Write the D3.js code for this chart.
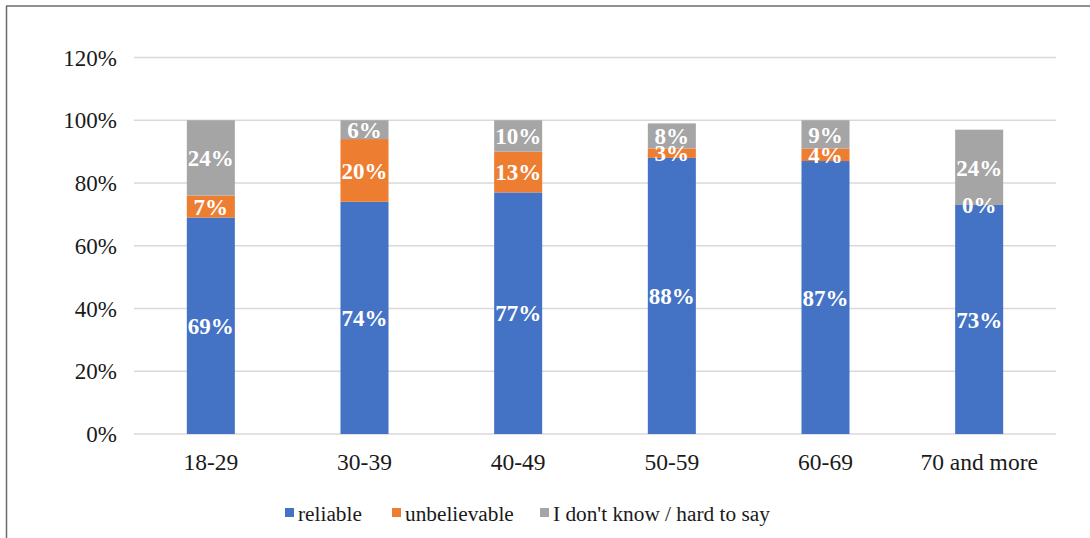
<!DOCTYPE html>
<html>
<head>
<meta charset="utf-8">
<script src="https://cdn.jsdelivr.net/npm/d3@7"></script>
<style>
  html, body { margin: 0; padding: 0; background: #fff; }
  svg { display: block; }
</style>
</head>
<body>
<svg id="chart" width="1090" height="538"></svg>
<script>
// Age groups and the share of answers for each group (percent)
const categories = ["18-29", "30-39", "40-49", "50-59", "60-69", "70 and more"];
const reliable     = [69, 74, 77, 88, 87, 73];
const unbelievable = [7, 20, 13, 3, 4, 0];
const dontKnow     = [24, 6, 10, 8, 9, 24];
const seriesNames  = ["reliable", "unbelievable", "I don't know / hard to say"];
const yTicks = [0, 20, 40, 60, 80, 100, 120];

const colors = ["#4472C4", "#ED7D31", "#A5A5A5"];
const FONT = '"Liberation Serif", "Times New Roman", serif';

const svg = d3.select("#chart");
const W = 1090, H = 538;

// frame: top and left edges
svg.append("line").attr("x1", 6).attr("x2", W).attr("y1", 6).attr("y2", 6)
  .attr("stroke", "#6b6b6b").attr("stroke-width", 1.5);
svg.append("line").attr("x1", 6.5).attr("x2", 6.5).attr("y1", 6).attr("y2", H)
  .attr("stroke", "#6b6b6b").attr("stroke-width", 1.5);

const plot = { left: 134, right: 1056, top: 57.5, bottom: 434 };

const x = d3.scaleBand().domain(categories)
  .range([plot.left, plot.right]).paddingInner(0.6875).paddingOuter(0.34375);
const y = d3.scaleLinear().domain([0, 120]).range([plot.bottom, plot.top]);

// gridlines
svg.append("g").selectAll("line").data(yTicks).join("line")
  .attr("x1", plot.left).attr("x2", plot.right)
  .attr("y1", d => y(d)).attr("y2", d => y(d))
  .attr("stroke", "#d9d9d9").attr("stroke-width", 1.3);

// y axis labels
const yAxis = svg.append("g").attr("transform", `translate(${plot.left - 17},0)`)
  .call(d3.axisLeft(y).tickValues(yTicks).tickFormat(d => d + "%").tickSize(0).tickPadding(0));
yAxis.select(".domain").remove();
yAxis.selectAll("text").style("font-family", FONT).style("font-size", "23px")
  .attr("fill", "#1a1a1a").attr("dy", "0.33em");

// x axis labels
const xAxis = svg.append("g").attr("transform", `translate(0,${plot.bottom})`)
  .call(d3.axisBottom(x).tickSize(0).tickPadding(19));
xAxis.select(".domain").remove();
xAxis.selectAll("text").style("font-family", FONT).style("font-size", "23.5px")
  .attr("fill", "#1a1a1a");

// stacked data
const rows = categories.map((c, i) => ({ cat: c, s0: reliable[i], s1: unbelievable[i], s2: dontKnow[i] }));
const stack = d3.stack().keys(["s0", "s1", "s2"])(rows);

const layers = svg.append("g").selectAll("g").data(stack).join("g")
  .attr("fill", (d, i) => colors[i]);

layers.selectAll("rect").data(d => d).join("rect")
  .attr("x", d => x(d.data.cat))
  .attr("width", x.bandwidth())
  .attr("y", d => y(d[1]))
  .attr("height", d => y(d[0]) - y(d[1]));

// value labels centred in each segment
const labelG = svg.append("g");
stack.forEach(layer => {
  layer.forEach(d => {
    const v = d[1] - d[0];
    labelG.append("text")
      .attr("x", x(d.data.cat) + x.bandwidth() / 2)
      .attr("y", y((d[0] + d[1]) / 2))
      .attr("dy", "0.36em")
      .attr("text-anchor", "middle")
      .style("font-family", FONT)
      .style("font-size", "23px")
      .style("font-weight", "bold")
      .attr("fill", "#ffffff")
      .text(v + "%");
  });
});

// legend
const legendItems = [
  { name: seriesNames[0], color: colors[0], x: 285 },
  { name: seriesNames[1], color: colors[1], x: 392 },
  { name: seriesNames[2], color: colors[2], x: 540 }
];
const lg = svg.append("g");
legendItems.forEach(it => {
  lg.append("rect").attr("x", it.x).attr("y", 508).attr("width", 9).attr("height", 9)
    .attr("fill", it.color);
  lg.append("text").attr("x", it.x + 13).attr("y", 514).attr("dy", "0.33em")
    .style("font-family", FONT).style("font-size", "21.3px")
    .attr("fill", "#1a1a1a").text(it.name);
});
</script>
</body>
</html>
